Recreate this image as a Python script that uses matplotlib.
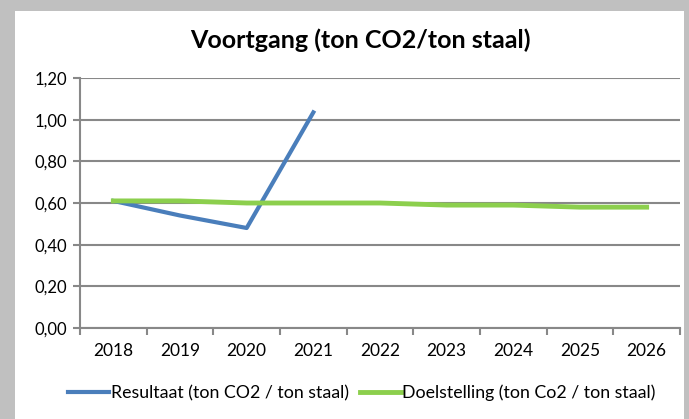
import matplotlib
matplotlib.use("Agg")
import matplotlib.pyplot as plt
from matplotlib.patches import Rectangle
from matplotlib.ticker import FuncFormatter

years = ["2018", "2019", "2020", "2021", "2022", "2023", "2024", "2025", "2026"]
resultaat = [0.61, 0.54, 0.48, 1.035]
doelstelling = [0.61, 0.61, 0.60, 0.60, 0.60, 0.59, 0.59, 0.58, 0.58]

plt.rcParams['font.family'] = ['Lato', 'DejaVu Sans']

fig = plt.figure(figsize=(6.89, 4.19), dpi=100, facecolor="#c0c0c0")
# white chart area
fig.patches.append(Rectangle((15 / 689, 0), 669 / 689, 1 - 11 / 419,
                             transform=fig.transFigure, facecolor="white",
                             edgecolor="none", zorder=-5))

ax = fig.add_axes([80 / 689, (419 - 328) / 419, 600 / 689, 250 / 419])
ax.set_facecolor("white")

x = list(range(len(years)))
ax.plot(x[:len(resultaat)], resultaat, color="#4a7ebb", lw=3,
        label="Resultaat (ton CO2 / ton staal)", zorder=3)
ax.plot(x, doelstelling, color="#8ccf4d", lw=3.5,
        label="Doelstelling (ton Co2 / ton staal)", zorder=4)

ax.set_xlim(-0.5, len(years) - 0.5)
ax.set_ylim(0, 1.2)
ax.set_yticks([0, 0.2, 0.4, 0.6, 0.8, 1.0, 1.2])
ax.yaxis.set_major_formatter(FuncFormatter(lambda v, p: f"{v:.2f}".replace(".", ",")))
ax.grid(axis="y", color="#888888", lw=1.5)
ax.set_axisbelow(True)

ax.set_xticks(x)
ax.set_xticklabels(years)
ax.set_xticks([i - 0.5 for i in range(len(years) + 1)], minor=True)
ax.tick_params(axis="x", which="major", length=0, pad=11, labelsize=12.5)
ax.tick_params(axis="x", which="minor", length=5, width=1.5, color="#888888")
ax.tick_params(axis="y", length=5, width=1.5, color="#888888", labelsize=12, pad=4)

for s in ["top", "right"]:
    ax.spines[s].set_visible(False)
ax.spines["left"].set_color("#888888")
ax.spines["left"].set_linewidth(1.5)
ax.spines["bottom"].set_color("#888888")
ax.spines["bottom"].set_linewidth(1.5)

fig.text(0.523, 1 - 40 / 419, "Voortgang (ton CO2/ton staal)", ha="center", va="center",
         fontsize=18, fontweight="bold")

ax.legend(loc="center", bbox_to_anchor=(0.47, -0.26), ncol=2, frameon=False,
          fontsize=12.8, handlelength=2.3, handletextpad=0.1, columnspacing=0.6)

fig.savefig("out.png", dpi=100, facecolor=fig.get_facecolor())
